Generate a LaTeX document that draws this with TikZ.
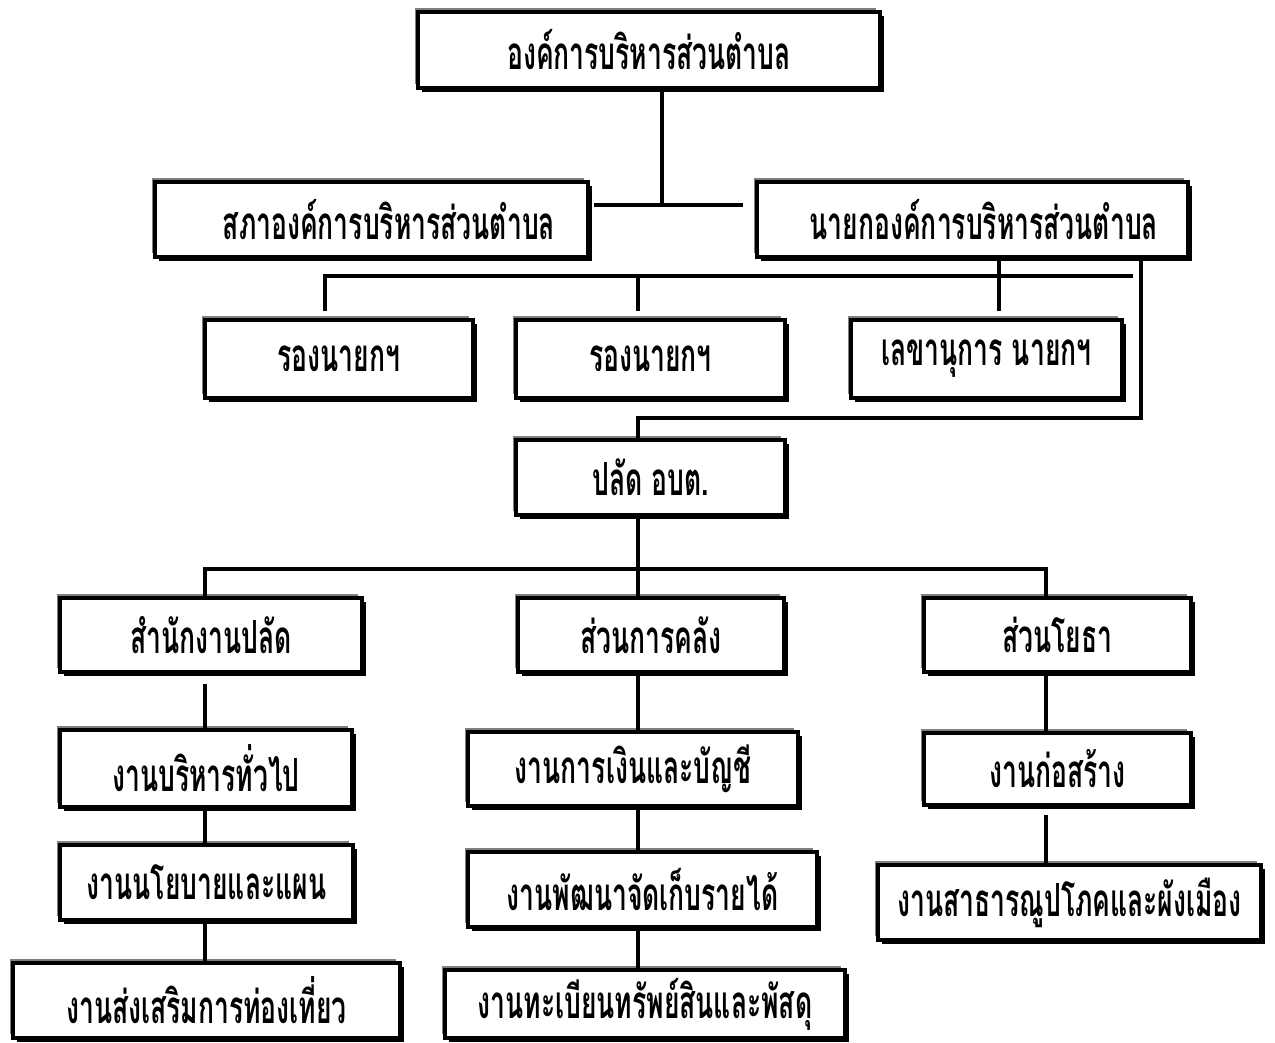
\documentclass[tikz,border=0pt]{standalone}
\usepackage{fontspec}
\newfontfamily\thaifont[Script=Thai,FakeStretch=0.58]{Loma}
\usetikzlibrary{shadows,calc}

\begin{document}
\begin{tikzpicture}[x=0.02cm,y=-0.02cm,
  box/.style={draw,line width=2.4pt,fill=white,inner sep=0pt,minimum height=1.5cm,
    font=\thaifont\bfseries\fontsize{26}{30}\selectfont,
    general shadow={fill=gray,shadow xshift=-2pt,shadow yshift=2pt},
    general shadow={fill=black,shadow xshift=2.4pt,shadow yshift=-2.4pt}},
  link/.style={line width=2.8pt}]
\useasboundingbox (0,0) rectangle (1275,1043);
\node[box,minimum width=9.24cm,minimum height=1.52cm] (top) at (649,50) {องค์การบริหารส่วนตำบล};
\node[box,minimum width=8.66cm,text width=7.34cm,align=right] (sapha) at (371.5,219.5) {สภาองค์การบริหารส่วนตำบล};
\node[box,minimum width=8.62cm,text width=7.42cm,align=right] (nayok) at (972.5,219.5) {นายกองค์การบริหารส่วนตำบล};
\node[box,minimum width=5.36cm,minimum height=1.56cm] (rong1) at (339,359) {รองนายกฯ};
\node[box,minimum width=5.38cm,minimum height=1.56cm] (rong2) at (650.5,359) {รองนายกฯ};
\node[box,minimum width=5.42cm,minimum height=1.56cm] (lekha) at (986.5,359) {เลขานุการ นายกฯ};
\node[box,minimum width=5.38cm] (palat) at (650.5,477.5) {ปลัด อบต.};
\node[box,minimum width=6.04cm,minimum height=1.48cm] (office) at (211,635) {สำนักงานปลัด};
\node[box,minimum width=5.32cm,minimum height=1.48cm] (finance) at (651,635) {ส่วนการคลัง};
\node[box,minimum width=5.34cm,minimum height=1.48cm] (works) at (1057.5,635) {ส่วนโยธา};
\node[box,minimum width=5.84cm,minimum height=1.54cm] (admin) at (206,768.5) {งานบริหารทั่วไป};
\node[box,minimum width=5.86cm] (policy) at (206.5,882.5) {งานนโยบายและแผน};
\node[box,minimum width=7.74cm] (tour) at (206.5,1000.5) {งานส่งเสริมการท่องเที่ยว};
\node[box,minimum width=6.6cm,minimum height=1.48cm] (account) at (633,769) {งานการเงินและบัญชี};
\node[box,minimum width=6.98cm] (revenue) at (642.5,889.5) {งานพัฒนาจัดเก็บรายได้};
\node[box,minimum width=8cm,minimum height=1.36cm] (assets) at (645,1004) {งานทะเบียนทรัพย์สินและพัสดุ};
\node[box,minimum width=5.34cm,minimum height=1.44cm] (build) at (1057.5,769) {งานก่อสร้าง};
\node[box,minimum width=7.66cm] (utility) at (1069.5,902.5) {งานสาธารณูปโภคและผังเมือง};
\coordinate (j1) at (662,205);
\coordinate (b1) at (325,276);
\coordinate (b2) at (1133,276);
\coordinate (mid) at (638,276);
\coordinate (sec) at (999,276);
\coordinate (bend) at (1141,418);
\coordinate (b3) at (205,569);
\coordinate (b4) at (1046,569);
\draw[link] (top.south -| j1) -- (j1);
\draw[link] ($(sapha.east |- j1)+(4,0)$) -- ($(nayok.west |- j1)+(-12,0)$);
\draw[link] ($(b1 |- rong1.north)+(0,-7)$) -- (b1) -- (b2);
\draw[link] (mid) -- ($(mid |- rong2.north)+(0,-7)$);
\draw[link] (nayok.south -| sec) -- ($(sec |- lekha.north)+(0,-7)$);
\draw[link] (nayok.south -| bend) -- (bend) -- (bend -| mid) -- (mid |- palat.north);
\draw[link] (b3 |- office.north) -- (b3) -- (b4) -- (b4 |- works.north);
\foreach \a/\b in {palat/finance,finance/account,account/revenue,revenue/assets}
  \draw[link] (mid |- \a.south) -- (mid |- \b.north);
\draw[link] ($(b3 |- office.south)+(0,10)$) -- (b3 |- admin.north);
\draw[link] (b3 |- admin.south) -- (b3 |- policy.north);
\draw[link] (b3 |- policy.south) -- (b3 |- tour.north);
\draw[link] (b4 |- works.south) -- (b4 |- build.north);
\draw[link] ($(b4 |- build.south)+(0,8)$) -- (b4 |- utility.north);
\end{tikzpicture}
\end{document}
